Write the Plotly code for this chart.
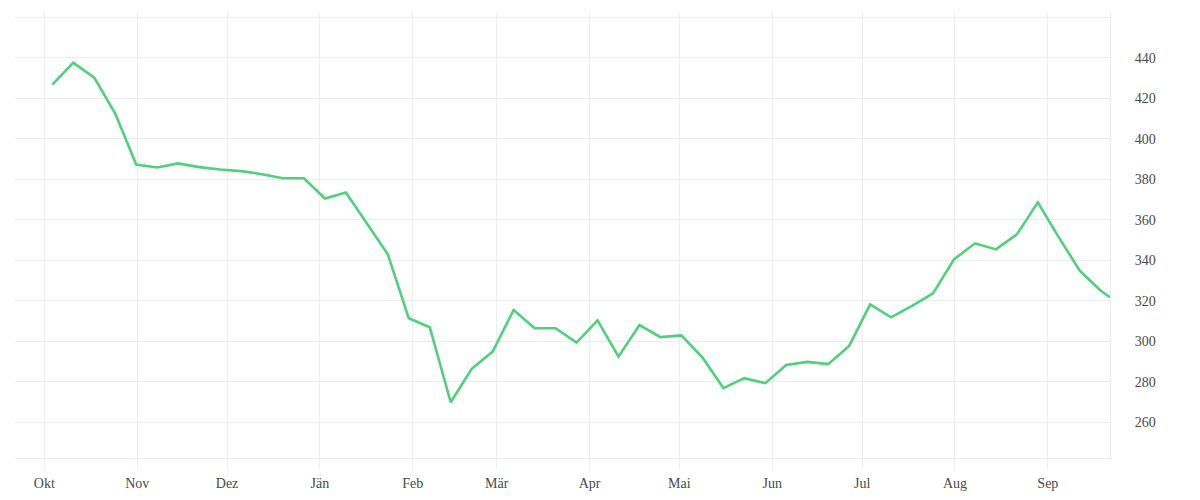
import pandas as pd
import plotly.graph_objects as go

# weekly values, Oct 2021 - Sep 2022
week_start = "2021-10-03 16:00"
last_date = "2022-09-21 18:00"
values = [426.7, 437.5, 430.1, 412.4, 387.3, 385.8, 387.8, 386.0, 384.8, 384.0,
          382.5, 380.5, 380.5, 370.5, 373.5, 358.5, 343.0, 311.4, 307.0, 270.0,
          286.5, 295.0, 315.5, 306.5, 306.5, 299.4, 310.4, 292.5, 308.1, 302.1,
          303.0, 292.2, 277.0, 281.9, 279.4, 288.4, 289.9, 288.8, 297.8, 318.3,
          311.9, 317.5, 323.7, 340.5, 348.4, 345.4, 352.8, 368.6, 351.3, 334.9,
          325.0, 321.8]

month_starts = ["2021-10-01", "2021-11-01", "2021-12-01", "2022-01-01", "2022-02-01",
                "2022-03-01", "2022-04-01", "2022-05-01", "2022-06-01", "2022-07-01",
                "2022-08-01", "2022-09-01"]
month_labels = ["Okt", "Nov", "Dez", "Jän", "Feb", "Mär", "Apr", "Mai", "Jun", "Jul",
                "Aug", "Sep"]

y_ticks = [260, 280, 300, 320, 340, 360, 380, 400, 420, 440, 460]
y_labels = [str(v) for v in y_ticks[:-1]] + [""]

dates = list(pd.date_range(week_start, periods=len(values) - 1, freq="7D")) + [pd.Timestamp(last_date)]

grid = "#ededed"
font = dict(family="Liberation Serif, DejaVu Serif, serif", size=14, color="#4a4a4a")

fig = go.Figure(go.Scatter(x=dates, y=values, mode="lines",
                           line=dict(color="#4dd17a", width=2.6)))

fig.update_xaxes(range=["2021-09-21 05:00", last_date], tickvals=month_starts, ticktext=month_labels,
                 showgrid=True, gridcolor=grid, gridwidth=1, ticks="outside", ticklen=10,
                 tickcolor=grid, showline=True, linecolor=grid, linewidth=1,
                 zeroline=False, fixedrange=True, tickfont=font, ticklabelstandoff=2)
fig.update_yaxes(range=[242.5, 462.5], tickvals=y_ticks, ticktext=y_labels, side="right",
                 showgrid=True, gridcolor=grid, gridwidth=1, ticks="", showline=True,
                 linecolor=grid, linewidth=1, zeroline=False, fixedrange=True,
                 tickfont=font, ticklabelstandoff=21)
# page body adds ~8px offset, margins compensate
fig.update_layout(width=1200, height=500, showlegend=False, plot_bgcolor="white",
                  paper_bgcolor="white", margin=dict(t=4, l=7, b=50, r=98))

fig.write_html("out.html", config=dict(displayModeBar=False))
